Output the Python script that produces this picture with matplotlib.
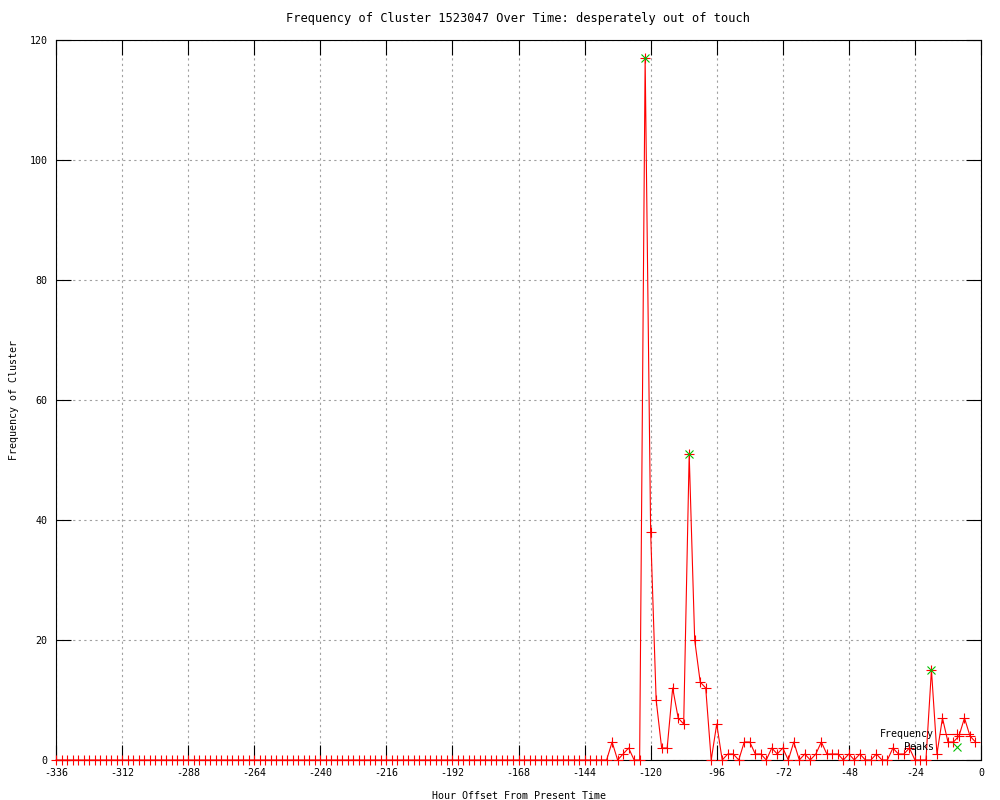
import matplotlib
matplotlib.use("Agg")
import matplotlib.pyplot as plt

# hour offsets, one sample every 2 hours
hours = list(range(-336, 0, 2))

# frequency per sample (-336 .. -2)
freq = [
    0, 0, 0, 0, 0, 0, 0, 0, 0, 0, 0, 0, 0, 0, 0, 0, 0, 0, 0, 0,
    0, 0, 0, 0, 0, 0, 0, 0, 0, 0, 0, 0, 0, 0, 0, 0, 0, 0, 0, 0,
    0, 0, 0, 0, 0, 0, 0, 0, 0, 0, 0, 0, 0, 0, 0, 0, 0, 0, 0, 0,
    0, 0, 0, 0, 0, 0, 0, 0, 0, 0, 0, 0, 0, 0, 0, 0, 0, 0, 0, 0,
    0, 0, 0, 0, 0, 0, 0, 0, 0, 0, 0, 0, 0, 0, 0, 0, 0, 0, 0, 0,
    0,
    3, 0, 1, 2, 0, 0, 117, 38, 10, 2, 2, 12, 7, 6, 51, 20, 13, 12,
    0, 6, 0, 1, 1, 0, 3, 3, 1, 1, 0, 2, 1, 2, 0, 3, 0, 1, 0, 1,
    3, 1, 1, 1, 0, 1, 0, 1, 0, 0, 1, 0, 0, 2, 1, 1, 2, 0, 0, 0,
    15, 1, 7, 3, 3, 4, 7, 4, 3,
]

peak_hours = [-122, -106, -18]
peak_values = [117, 51, 15]

x_ticks = list(range(-336, 1, 24))
y_ticks = list(range(0, 121, 20))

plt.rcParams['font.family'] = 'DejaVu Sans Mono'
plt.rcParams['font.size'] = 7.2
plt.rcParams['axes.unicode_minus'] = False

fig = plt.figure(figsize=(10, 8), dpi=100)
ax = fig.add_axes([0.056, 0.05, 0.925, 0.90])

ax.plot(hours, freq, color='#ff0000', linewidth=0.8, marker='+',
        markersize=7, markeredgewidth=0.8, label='Frequency', clip_on=False,
        zorder=3)
ax.plot(peak_hours, peak_values, linestyle='none', color='#00c000',
        marker='x', markersize=6, markeredgewidth=0.8, label='Peaks',
        zorder=4)

ax.set_xlim(-336, 0)
ax.set_ylim(0, 120)
ax.set_xticks(x_ticks)
ax.set_yticks(y_ticks)

ax.grid(True, color='#a0a0a0', linestyle=(0, (2, 3)), linewidth=0.8)
ax.tick_params(direction='in', length=11, width=0.8, top=True, right=True,
               pad=6, colors='black')
for s in ax.spines.values():
    s.set_linewidth(0.8)

ax.set_title('Frequency of Cluster 1523047 Over Time: desperately out of touch',
             pad=13)
ax.set_xlabel('Hour Offset From Present Time', labelpad=9)
ax.set_ylabel('Frequency of Cluster', labelpad=8)

ax.legend(loc='lower right', bbox_to_anchor=(1.0, 0.0), frameon=False,
          markerfirst=False, handlelength=3.3, handletextpad=0.6,
          labelspacing=0.3, borderaxespad=0.4, numpoints=1)

fig.savefig('out.png', dpi=100)
